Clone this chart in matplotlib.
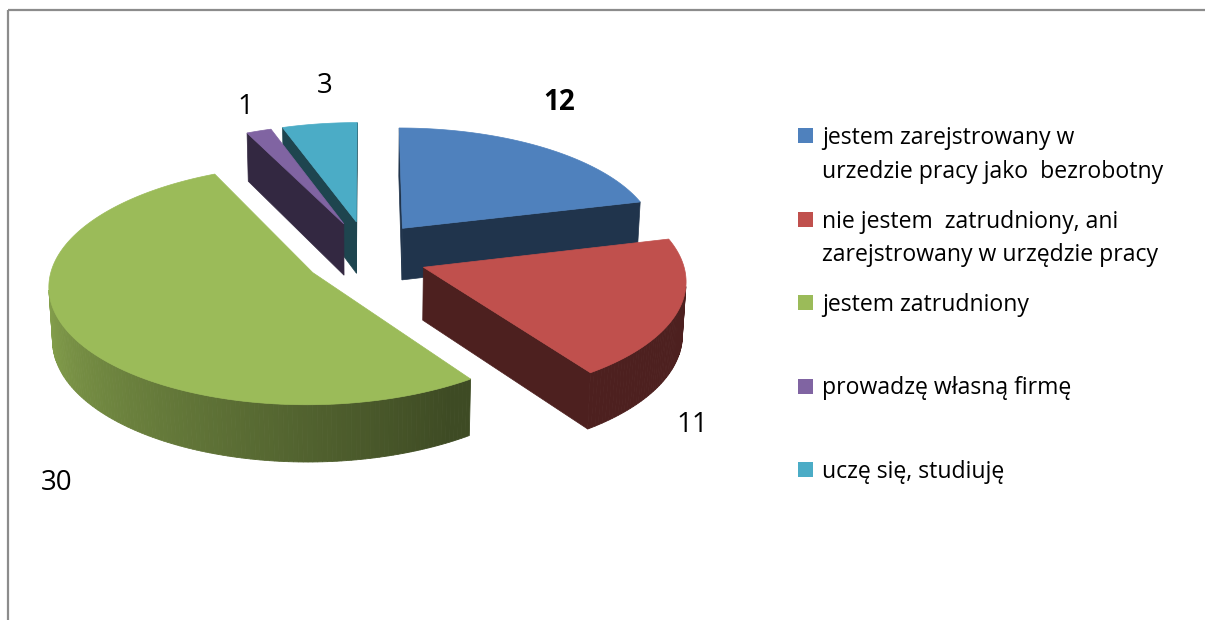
import numpy as np
import matplotlib.pyplot as plt
from matplotlib.patches import Polygon, Rectangle
from matplotlib.colors import to_rgb

# data
labels = ['jestem zarejstrowany w\nurzedzie pracy jako  bezrobotny',
          'nie jestem  zatrudniony, ani\nzarejstrowany w urzędzie pracy',
          'jestem zatrudniony',
          'prowadzę własną firmę',
          'uczę się, studiuję']
values = [12, 11, 30, 1, 3]
colors = ['#4f81bd', '#c0504d', '#9bbb59', '#8064a2', '#4bacc6']
value_pos = [(559, 102), (692, 425), (57, 483), (245, 107), (325, 86)]

plt.rcParams['font.family'] = ['Open Sans', 'DejaVu Sans']

# 3d pie layout (pixels)
CX, CY = 366, 255
S = 258
SIN_E = 0.447
COS_E = np.sqrt(1 - SIN_E ** 2)
DIST = 9.0
THICK = 0.23
EXPLODE_X, EXPLODE_Y = 0.235, 0.30
cam = np.array([0.0, -DIST * COS_E, DIST * SIN_E])


def proj(x, y, z):
    v = y * SIN_E + z * COS_E
    d = y * COS_E - z * SIN_E
    f = DIST / (DIST + d)
    return CX + S * x * f, CY - S * v * f


def shade(c, k):
    return tuple(np.clip(np.array(to_rgb(c)) * k, 0, 1))


def arc_factor(a):
    deg = np.degrees(a) % 360
    return float(np.clip(0.9 - 0.5 * (deg - 180) / 120, 0.4, 0.9))


fig = plt.figure(figsize=(12.05, 6.2), dpi=100)
ax = fig.add_axes([0, 0, 1, 1])
ax.set_xlim(0, 1205)
ax.set_ylim(620, 0)
ax.axis('off')

total = sum(values)
cum = np.cumsum([0] + values)
wedges = []
for i, v in enumerate(values):
    t1 = np.radians(90 - 360 * cum[i] / total)
    t2 = np.radians(90 - 360 * cum[i + 1] / total)
    mid = (t1 + t2) / 2
    wedges.append((i, t1, t2, EXPLODE_X * np.cos(mid), EXPLODE_Y * np.sin(mid)))

# back to front
for i, t1, t2, ox, oy in sorted(wedges, key=lambda w: -w[4]):
    col = colors[i]
    # radial faces
    for a, sgn in ((t1, 1), (t2, -1)):
        n = np.array([np.cos(a + sgn * np.pi / 2), np.sin(a + sgn * np.pi / 2), 0])
        p = np.array([ox + 0.5 * np.cos(a), oy + 0.5 * np.sin(a), -THICK / 2])
        if n @ (cam - p) > 0:
            pts = [proj(ox, oy, 0), proj(ox + np.cos(a), oy + np.sin(a), 0),
                   proj(ox + np.cos(a), oy + np.sin(a), -THICK), proj(ox, oy, -THICK)]
            ax.add_patch(Polygon(pts, closed=True, fc=shade(col, 0.4),
                                 ec=shade(col, 0.4), lw=0.5))
    # outer rim
    angs = np.linspace(t2, t1, max(4, int(abs(t1 - t2) * 60)))
    for a0, a1 in zip(angs[:-1], angs[1:]):
        am = (a0 + a1) / 2
        n = np.array([np.cos(am), np.sin(am), 0])
        p = np.array([ox + np.cos(am), oy + np.sin(am), -THICK / 2])
        if n @ (cam - p) > 0:
            c = shade(col, arc_factor(am))
            pts = [proj(ox + np.cos(a0), oy + np.sin(a0), 0),
                   proj(ox + np.cos(a1), oy + np.sin(a1), 0),
                   proj(ox + np.cos(a1), oy + np.sin(a1), -THICK),
                   proj(ox + np.cos(a0), oy + np.sin(a0), -THICK)]
            ax.add_patch(Polygon(pts, closed=True, fc=c, ec=c, lw=0.6))
    # top face
    top = [proj(ox, oy, 0)] + [proj(ox + np.cos(a), oy + np.sin(a), 0) for a in angs]
    ax.add_patch(Polygon(top, closed=True, fc=col, ec=col, lw=0.5))

# value labels
for i, v in enumerate(values):
    x, y = value_pos[i]
    ax.text(x, y, str(v), fontsize=20, ha='center', va='center',
            fontweight='bold' if i == 0 else 'normal', color='black')

# legend
for i, lab in enumerate(labels):
    top_y = 128 + i * 83.5
    ax.add_patch(Rectangle((798, top_y), 15, 15, fc=colors[i], ec='none'))
    for j, line in enumerate(lab.split('\n')):
        ax.text(822, top_y + 16 + j * 33.5, line, fontsize=16.6,
                ha='left', va='baseline', color='black')

# chart border
ax.plot([8, 1205], [10, 10], color='#8c8c8c', lw=1.6, solid_capstyle='butt')
ax.plot([8, 8], [10, 620], color='#8c8c8c', lw=1.6, solid_capstyle='butt')

fig.savefig('out.png', dpi=100)
